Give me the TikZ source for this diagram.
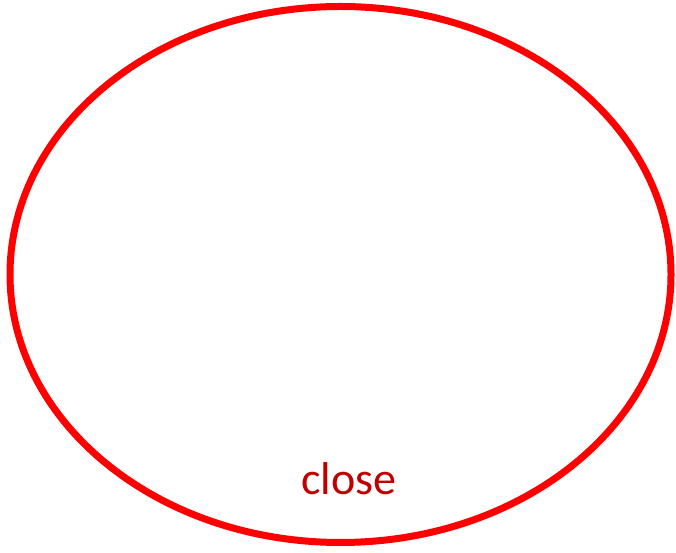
\documentclass[tikz,border=0pt]{standalone}
\usepackage{fontspec}
\setmainfont{Carlito}
\definecolor{ringred}{RGB}{255,0,0}
\definecolor{labelred}{RGB}{192,0,0}
\begin{document}
\begin{tikzpicture}[x=1pt,y=1pt,
  ring/.style={draw=ringred,line width=7pt},
  lbl/.style={text=labelred,font=\fontsize{46}{55}\selectfont,inner sep=0pt,anchor=base}]
\useasboundingbox (0,0) rectangle (676,553);
\draw[ring] (340.5,278.5) ellipse [x radius=330.5, y radius=268];
\node[lbl] (close) at (349,58) {close};
\end{tikzpicture}
\end{document}
